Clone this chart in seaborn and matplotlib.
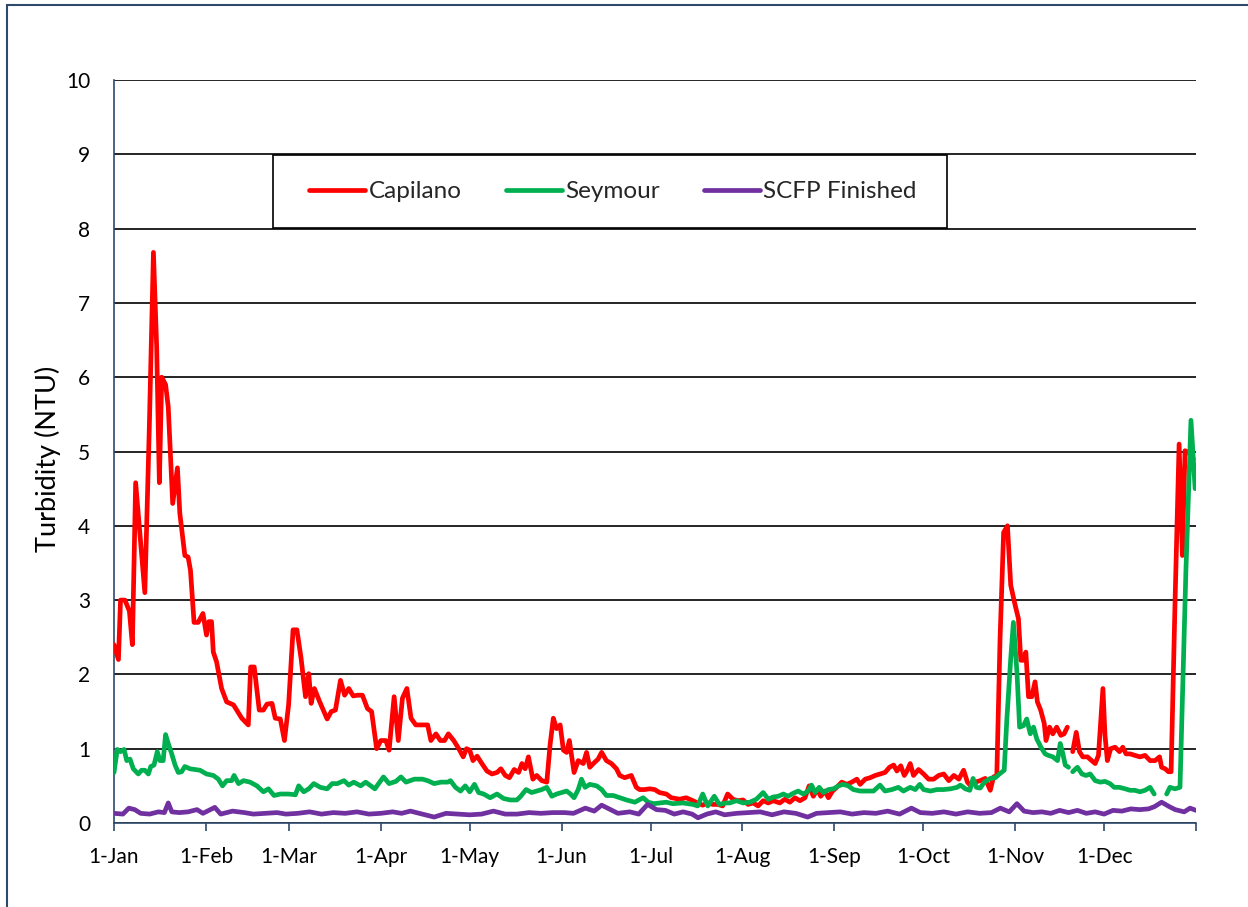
import numpy as np
import pandas as pd
import matplotlib
matplotlib.use("Agg")
import matplotlib.pyplot as plt
import seaborn as sns
from matplotlib.patches import Rectangle
from matplotlib.lines import Line2D

# ---------------- data (day of year, turbidity NTU) ----------------
month_starts = [0, 31, 59, 90, 120, 151, 181, 212, 243, 273, 304, 334, 365]
month_labels = ["1-Jan", "1-Feb", "1-Mar", "1-Apr", "1-May", "1-Jun", "1-Jul",
                "1-Aug", "1-Sep", "1-Oct", "1-Nov", "1-Dec", ""]
series_names = ["Capilano", "Seymour", "SCFP Finished"]
series_colors = ["#FF0000", "#00B050", "#7030A0"]

cap_days = [0, 1.5, 2.2, 3.7, 5.2, 6.2, 7.3, 8.8, 10.4, 11.9, 13.3, 14.4, 15.3, 16.1, 17.4,
            18.3, 19.8, 21.4, 22.2, 23.9, 25, 25.8, 27, 28.4, 30, 31.2, 32, 32.9, 33.5, 34.6,
            36.3, 38, 40.3, 41.4, 43.1, 45.3, 46.1, 47.3, 49, 50.4, 51.6, 53.3, 54.4, 56.1,
            57.5, 58.9, 60.4, 61.7, 63.1, 64.6, 65.7, 66.5, 67.6, 69.4, 71.9, 73.3, 74.7,
            76.4, 77.8, 79.2, 80.7, 82.1, 83.8, 85.5, 86.9, 88.6, 90, 91.7, 92.8, 93.6, 94.5,
            95.9, 97.3, 98.8, 100.2, 101.8, 104.1, 105.8, 106.9, 108.6, 110.1, 111.5, 112.8,
            114.6, 116.3, 117.8, 118.9, 120, 121.1, 122.5, 124.1, 125.8, 127.5, 129.2, 130.5,
            132, 133.4, 135, 136.5, 137.6, 138.7, 139.8, 141.3, 142.6, 144.3, 146, 147.1,
            148.2, 149.3, 150.5, 151.6, 152.7, 153.6, 155.2, 156.6, 158.3, 159.4, 160.5,
            161.7, 163.3, 164.5, 166.1, 167.8, 169.5, 170.6, 172.3, 174.5, 176.2, 177.3, 179,
            180.7, 182.4, 184, 186.3, 188, 190.8, 193, 195.3, 196.9, 198.6, 200.3, 202, 203.7,
            205.3, 207, 208.8, 210.5, 212.2, 213.9, 215.6, 217.3, 219, 220.7, 222.4, 224.6,
            226.3, 228, 229.7, 231.4, 233.1, 234.5, 235.9, 237.3, 238.4, 239.8, 241, 242.4,
            243.8, 245.5, 247.2, 248.9, 250.6, 251.7, 253.4, 255.1, 256.8, 258.5, 260.1, 261.6,
            263, 264.1, 265.4, 266.6, 267.5, 268.6, 269.7, 271.4, 273.1, 274.8, 276.5, 278.2,
            279.9, 281.6, 283.3, 285, 286.6, 287.9, 288.8, 290.5, 292.2, 293.9, 295.6, 296.7,
            297.8, 298.9, 300.1, 301.4, 302.5, 304, 305.1, 305.9, 306.8, 307.6, 308.5, 309.6,
            310.7, 311.5, 312.6, 313.8, 314.4, 315.6, 316.7, 318, 319.4, 320.5, 321.6, 322.5,
            323.4, 324.6, 325.7, 326.8, 328.4, 329.8, 331, 332.1, 333.6, 334.3, 335.1, 336.2,
            337.7, 339.2, 340.3, 341.4, 342.8, 344.4, 346.1, 347.8, 349.5, 351.2, 352.7, 353.4,
            354.6, 355.7, 356.6, 357.9, 359.3, 360.4, 361.3, 362.4, 364.1]
cap_vals = [2.4, 2.2, 3.0, 3.0, 2.85, 2.4, 4.58, 3.86, 3.1, 5.3, 7.68, 6.4, 4.58, 6.0, 5.9,
            5.6, 4.3, 4.78, 4.17, 3.6, 3.58, 3.4, 2.7, 2.7, 2.82, 2.53, 2.71, 2.71, 2.3, 2.17,
            1.81, 1.63, 1.59, 1.52, 1.41, 1.32, 2.1, 2.1, 1.52, 1.52, 1.6, 1.61, 1.41, 1.4,
            1.11, 1.59, 2.6, 2.6, 2.22, 1.7, 2.01, 1.61, 1.81, 1.63, 1.4, 1.5, 1.52,
            1.92, 1.72, 1.81, 1.71, 1.72, 1.72, 1.54, 1.5, 1.0, 1.11, 1.11, 0.98, 1.32, 1.7,
            1.11, 1.68, 1.81, 1.41, 1.32, 1.32, 1.32, 1.11, 1.2, 1.11, 1.11, 1.2,
            1.11, 1.0, 0.89, 1.0, 0.98, 0.84, 0.9, 0.8, 0.7, 0.66, 0.68, 0.73,
            0.64, 0.61, 0.72, 0.68, 0.8, 0.73, 0.89, 0.59, 0.64, 0.57, 0.55, 1.05,
            1.41, 1.27, 1.32, 0.98, 0.95, 1.11, 0.68, 0.84, 0.8, 0.95, 0.75,
            0.8, 0.86, 0.95, 0.84, 0.8, 0.73, 0.64, 0.61, 0.64, 0.48, 0.45, 0.45,
            0.46, 0.45, 0.41, 0.39, 0.34, 0.32, 0.34, 0.3, 0.27, 0.24, 0.27, 0.25, 0.25,
            0.23, 0.39, 0.32, 0.3, 0.31, 0.25, 0.27, 0.23, 0.3, 0.27, 0.3, 0.27,
            0.32, 0.28, 0.34, 0.3, 0.34, 0.5, 0.36, 0.45, 0.36, 0.43, 0.34, 0.43,
            0.48, 0.55, 0.52, 0.55, 0.59, 0.52, 0.59, 0.61, 0.64, 0.66, 0.68, 0.75,
            0.78, 0.7, 0.77, 0.64, 0.7, 0.8, 0.64, 0.72, 0.66, 0.59, 0.59, 0.64,
            0.66, 0.57, 0.64, 0.59, 0.71, 0.55, 0.51, 0.55, 0.57, 0.6, 0.44, 0.62,
            0.64, 2.48, 3.91, 4.0, 3.2, 2.93, 2.75, 2.19, 2.19, 2.3, 1.7, 1.7,
            1.9, 1.63, 1.52, 1.34, 1.11, 1.29, 1.2, 1.29, 1.18, 1.2, 1.29, np.nan,
            0.96, 1.22, 0.96, 0.89, 0.89, 0.84, 0.8, 0.91, 1.81, 1.18, 0.84, 1.0,
            1.02, 0.96, 1.02, 0.93, 0.93, 0.91, 0.89, 0.91, 0.84, 0.84, 0.89, 0.75,
            0.73, 0.69, 0.69, 2.93, 5.1, 3.6, 5.01, 4.99, 4.9]

sey_days = [0, 1.1, 2.2, 3.4, 4.3, 5.4, 6.5, 8.2, 9.3, 10.4, 11.6, 12.4, 13.5, 14.6, 15.5,
            16.6, 17.4, 18.3, 19.4, 20.6, 21.7, 22.8, 23.9, 25.6, 27.3, 29, 31.2, 33.5, 35.2,
            36.6, 38, 39.7, 40.5, 42, 43.7, 45.9, 48.2, 50.4, 52.1, 54, 56.1, 58.9, 61.2,
            62.3, 64, 65.7, 67.4, 69.6, 71.9, 73.6, 75.3, 77.6, 79.2, 80.9, 83.2, 84.9, 86.6,
            88, 90.9, 92.8, 95.1, 96.8, 98.5, 101.3, 104.1, 105.8, 108, 110.3, 112.6, 113.5,
            115.2, 116.9, 118.5, 120, 121.6, 123, 124.7, 126.9, 129.2, 131.4, 133.7, 135.9,
            137.2, 139, 140.9, 142.6, 144.3, 146, 147.7, 149.3, 151, 152.7, 154, 155.2, 156.6,
            157.7, 158.9, 160.5, 162.8, 164.5, 166.1, 168.4, 170.6, 172.9, 175.7, 178.5, 180.2,
            182.1, 184.1, 186.3, 188.5, 191.9, 195.3, 196.9, 198.6, 200.3, 202.5, 204.2, 206.5,
            207.7, 210, 212.2, 214.5, 216.7, 219, 220.7, 222.4, 224.1, 225.8, 227.4, 229.1,
            230.8, 232.5, 234.2, 235.3, 236.5, 237.9, 239.3, 241, 242.7, 244.4, 246, 247.7,
            249.4, 251.7, 253.9, 256.2, 258.4, 260.1, 262.4, 264.6, 266.3, 268.6, 270.3, 271.8,
            273.1, 275.4, 277.6, 279.9, 282.2, 284.4, 285.5, 287.2, 288.7, 289.8, 290.9, 292.2,
            293.6, 295.6, 297.3, 298.7, 300.3, 301.2, 302.5, 303.4, 304.6, 305.5, 306.8, 307.9,
            309.1, 310.2, 311.3, 312.7, 314.1, 315.2, 316.7, 318.3, 319.2, 320.1, 320.9, 322,
            322.7, 323.4, 325, 326.5, 327.9, 329.3, 331, 332.7, 334.3, 336, 337.4, 339.2,
            341.1, 342.8, 344.4, 346.1, 347.8, 349.5, 350.9, 353, 355.1, 356.2, 357.9, 359.6,
            361.6, 363.3, 364.7]
sey_vals = [0.68, 0.99, 0.96, 0.99, 0.84, 0.86, 0.73, 0.66, 0.71, 0.71, 0.66, 0.76, 0.78, 0.96, 0.84,
            0.84, 1.19, 1.07, 0.94, 0.78, 0.68, 0.69, 0.76, 0.73, 0.72, 0.71, 0.66, 0.64, 0.59,
            0.5, 0.57, 0.57, 0.64, 0.53, 0.57, 0.55, 0.5, 0.42, 0.46, 0.37, 0.39, 0.39, 0.38,
            0.5, 0.42, 0.46, 0.53, 0.48, 0.46, 0.53, 0.53, 0.57, 0.51, 0.55, 0.5, 0.55, 0.5,
            0.46, 0.62, 0.53, 0.56, 0.62, 0.55, 0.59, 0.59, 0.57, 0.53, 0.55, 0.55, 0.57,
            0.48, 0.43, 0.5, 0.42, 0.52, 0.41, 0.39, 0.34, 0.39, 0.33, 0.31, 0.31,
            0.36, 0.45, 0.41, 0.43, 0.45, 0.48, 0.36, 0.39, 0.41, 0.43, 0.39, 0.34, 0.45,
            0.59, 0.48, 0.52, 0.5, 0.45, 0.37, 0.37, 0.34, 0.31, 0.28, 0.34, 0.28,
            0.26, 0.27, 0.28, 0.26, 0.27, 0.25, 0.23, 0.39, 0.23, 0.36, 0.25, 0.27,
            0.27, 0.3, 0.27, 0.28, 0.32, 0.41, 0.32, 0.35, 0.36, 0.39, 0.36, 0.4,
            0.43, 0.39, 0.43, 0.51, 0.41, 0.48, 0.41, 0.45, 0.46, 0.5, 0.52, 0.5,
            0.45, 0.43, 0.43, 0.43, 0.51, 0.43, 0.45, 0.48, 0.43, 0.48, 0.45, 0.52,
            0.45, 0.43, 0.45, 0.45, 0.46, 0.48, 0.51, 0.46, 0.44, 0.6, 0.48, 0.47,
            0.55, 0.6, 0.61, 0.66, 0.71, 1.4, 2.21, 2.7, 2.03, 1.29, 1.31, 1.4,
            1.2, 1.29, 1.13, 1.02, 0.93, 0.91, 0.89, 0.84, 1.07, 0.93, 0.78, 0.75,
            np.nan, 0.69, 0.75, 0.66, 0.64, 0.66, 0.57, 0.55, 0.56, 0.53, 0.48, 0.48,
            0.46, 0.44, 0.44, 0.42, 0.44, 0.48, 0.39, np.nan, 0.39, 0.48, 0.46, 0.48,
            3.4, 5.42, 4.5]

scfp_days = [0, 3, 5, 7, 9, 12, 15, 17, 18.3, 19.5, 22, 25, 28, 30, 34, 36, 40, 44, 47, 51,
             55, 58, 62, 66, 70, 74, 78, 82, 86, 90, 94, 97, 100, 104, 108, 112, 116, 120,
             124, 128, 132, 136, 140, 144, 148, 152, 155, 159, 162, 164.5, 167, 170, 174,
             177, 180, 183, 186, 189, 192, 195, 197, 200, 203, 206, 210, 214, 218, 222, 226,
             230, 234, 237, 241, 245, 249, 253, 257, 261, 265, 269, 272, 276, 280, 284, 288,
             292, 296, 299, 302, 304.6, 307, 310, 313, 316, 319, 322, 325, 328, 331, 334,
             337, 340, 343, 346, 349, 351, 353.4, 356, 358, 361, 363, 365]
scfp_vals = [0.13, 0.12, 0.2, 0.18, 0.13, 0.12, 0.15, 0.14, 0.27, 0.15, 0.14, 0.15, 0.18, 0.13,
             0.21, 0.12, 0.16, 0.14, 0.12, 0.13, 0.14, 0.12, 0.13, 0.15, 0.12, 0.14, 0.13,
             0.15, 0.12, 0.13, 0.15, 0.13, 0.16, 0.12, 0.08, 0.13, 0.12, 0.11, 0.12, 0.16,
             0.12, 0.12, 0.14, 0.13, 0.14, 0.14, 0.13, 0.2, 0.16, 0.24, 0.19, 0.13, 0.15,
             0.12, 0.25, 0.18, 0.17, 0.12, 0.15, 0.12, 0.07, 0.12, 0.15, 0.11, 0.13, 0.14,
             0.15, 0.11, 0.15, 0.13, 0.08, 0.13, 0.14, 0.15, 0.12, 0.14, 0.13, 0.16, 0.12,
             0.2, 0.14, 0.13, 0.15, 0.12, 0.15, 0.13, 0.14, 0.2, 0.15, 0.26, 0.16, 0.14,
             0.15, 0.13, 0.17, 0.14, 0.17, 0.13, 0.15, 0.12, 0.17, 0.16, 0.19, 0.18, 0.19,
             0.22, 0.28, 0.22, 0.18, 0.15, 0.2, 0.17]

# ---------------- helpers ----------------
def to_frame(days, vals):
    rows, seg = [], 0
    for d, v in zip(days, vals):
        if v is None or np.isnan(v):
            seg += 1
            continue
        rows.append((d, v, seg))
    return pd.DataFrame(rows, columns=["day", "ntu", "seg"])

# ---------------- style ----------------
sns.set_style("white")
plt.rcParams["font.family"] = ["Lato", "DejaVu Sans"]
AXIS_BLUE = "#2E4A6B"
W, H = 1248, 907
LW = 3.4

fig = plt.figure(figsize=(W / 100, H / 100), dpi=100)
ax = fig.add_axes([114 / W, 1 - 823 / H, (1196 - 114) / W, (823 - 80) / H])

all_data = [(cap_days, cap_vals), (sey_days, sey_vals), (scfp_days, scfp_vals)]
for (days, vals), name, color in zip(all_data, series_names, series_colors):
    df = to_frame(days, vals)
    sns.lineplot(data=df, x="day", y="ntu", units="seg", estimator=None, sort=False,
                 color=color, lw=LW, ax=ax, legend=False,
                 solid_joinstyle="round", solid_capstyle="round", zorder=3)

ax.set_xlim(0, 365)
ax.set_ylim(0, 10)
ax.set_yticks(range(0, 11))
ax.set_xticks(month_starts)
ax.set_xticklabels(month_labels)
ax.set_xlabel("")
ax.set_ylabel("")
ax.yaxis.grid(True, color="black", lw=1.2)
ax.xaxis.grid(False)
ax.set_axisbelow(True)

for s in ["top", "right"]:
    ax.spines[s].set_visible(False)
for s in ["left", "bottom"]:
    ax.spines[s].set_color(AXIS_BLUE)
    ax.spines[s].set_linewidth(1.2)

ax.tick_params(axis="y", length=0, pad=17, labelsize=15, labelcolor="black")
ax.tick_params(axis="x", direction="out", length=6, width=1.2, color=AXIS_BLUE,
               pad=11.5, labelsize=15, labelcolor="black", bottom=True)

fig.text(48 / W, 1 - 459 / H, "Turbidity (NTU)", rotation=90, ha="center", va="center",
         fontsize=19.5, color="black")

# legend box
bx0, bx1, by0, by1 = 273, 947, 155, 228
ax_w, ax_h = 1196 - 114, 823 - 80
ax.add_patch(Rectangle(((bx0 - 114) / ax_w, (823 - by1) / ax_h), (bx1 - bx0) / ax_w,
                       (by1 - by0) / ax_h, transform=ax.transAxes, facecolor="white",
                       edgecolor="black", lw=1.2, zorder=5, clip_on=False))
handles = [Line2D([0], [0], color=c, lw=LW, solid_capstyle="round") for c in series_colors]
leg = ax.legend(handles, series_names, loc="center",
                bbox_to_anchor=(((bx0 + bx1) / 2 + 3 - 114) / ax_w, (823 - (by0 + by1) / 2) / ax_h),
                ncol=3, frameon=False, fontsize=17.5, handlelength=2.3, handletextpad=0.15,
                columnspacing=1.8)
leg.set_zorder(6)

# chart-area border (left and top edges visible)
fig.add_artist(Rectangle((7 / W, -0.5), 2.0, 0.5 + 1 - 5 / H, transform=fig.transFigure,
                         fill=False, edgecolor=AXIS_BLUE, lw=1.5))

fig.savefig("out.png", dpi=100)
